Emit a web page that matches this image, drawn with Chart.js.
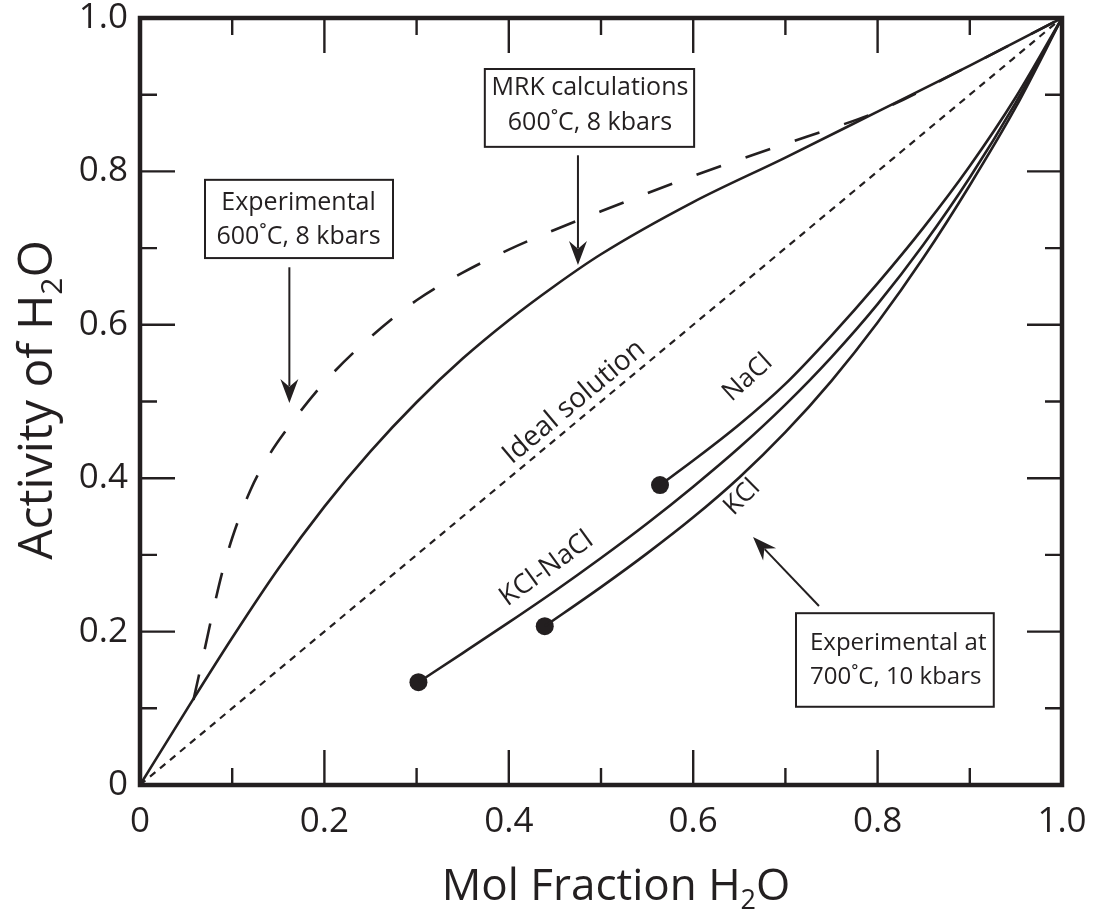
<!DOCTYPE html>
<html>
<head>
<meta charset="utf-8">
<script src="https://cdn.jsdelivr.net/npm/chart.js@4/dist/chart.umd.min.js"></script>
<style>
  html, body { margin: 0; padding: 0; background: #fff; }
  #wrap { width: 1099px; height: 909px; }
</style>
</head>
<body>
<div id="wrap"><canvas id="chart" width="1099" height="909"></canvas></div>
<script>
// Activity of H2O vs mol fraction H2O
const axisTicks = [0, 0.2, 0.4, 0.6, 0.8, 1.0];

const idealX = [0, 1];
const idealY = [0, 1];

// MRK calculations 600˚C, 8 kbars
const mrkX = [0, 0.05, 0.1, 0.15, 0.2, 0.25, 0.3, 0.35, 0.4, 0.45, 0.5, 0.6, 0.7, 0.8, 0.9, 1];
const mrkY = [0, 0.097, 0.192, 0.282, 0.363, 0.435, 0.499, 0.556, 0.606, 0.651, 0.692, 0.760, 0.818, 0.878, 0.938, 1];

// Experimental 600˚C, 8 kbars (dashed)
const exp600X = [0.058, 0.07, 0.08, 0.09, 0.1, 0.12, 0.14, 0.16, 0.2, 0.25, 0.3, 0.35, 0.4, 0.45, 0.5, 0.6, 0.7, 0.75, 0.8, 0.9, 1];
const exp600Y = [0.111, 0.176, 0.231, 0.281, 0.322, 0.385, 0.430, 0.465, 0.525, 0.584, 0.632, 0.668, 0.698, 0.724, 0.748, 0.794, 0.836, 0.856, 0.878, 0.938, 1];

// Experimental at 700˚C, 10 kbars
const naclX = [0.564, 0.6, 0.65, 0.7, 0.75, 0.8, 0.85, 0.9, 0.95, 1];
const naclY = [0.391, 0.423, 0.470, 0.523, 0.586, 0.654, 0.727, 0.807, 0.897, 1];

const kclNaclX = [0.302, 0.35, 0.4, 0.45, 0.5, 0.55, 0.6, 0.65, 0.7, 0.75, 0.8, 0.85, 0.9, 0.95, 1];
const kclNaclY = [0.134, 0.172, 0.212, 0.253, 0.296, 0.341, 0.389, 0.440, 0.496, 0.558, 0.627, 0.705, 0.792, 0.890, 1];

const kclX = [0.439, 0.5, 0.55, 0.6, 0.65, 0.7, 0.75, 0.8, 0.85, 0.9, 0.95, 1];
const kclY = [0.207, 0.258, 0.302, 0.349, 0.401, 0.460, 0.527, 0.603, 0.688, 0.782, 0.884, 1];

const FONT = "'Open Sans', sans-serif";
const INK = '#231f20';

const pts = (xs, ys) => xs.map((x, i) => ({ x: x, y: ys[i] }));

function curve(xs, ys, dash, width) {
    return {
        data: pts(xs, ys),
        showLine: true,
        borderColor: INK,
        borderWidth: width || 2.6,
        borderDash: dash || [],
        pointRadius: 0,
        cubicInterpolationMode: 'monotone',
        fill: false
    };
}

// annotation boxes, in data units
const boxes = [
    { lines: ['Experimental', '600˚C, 8 kbars'], x0: 0.0705, x1: 0.2744, yTop: 0.789, yBot: 0.687, tx: 0.172, ty: [0.759, 0.714], align: 'center', size: 25 },
    { lines: ['MRK calculations', '600˚C, 8 kbars'], x0: 0.374, x1: 0.601, yTop: 0.9335, yBot: 0.832, tx: 0.488, ty: [0.9087, 0.8631], align: 'center', size: 25 },
    { lines: ['Experimental at', '700˚C, 10 kbars'], x0: 0.7115, x1: 0.926, yTop: 0.224, yBot: 0.102, tx: 0.7267, ty: [0.185, 0.141], align: 'left', size: 24 }
];

const arrows = [
    { from: [0.162, 0.675], to: [0.162, 0.498] },
    { from: [0.475, 0.821], to: [0.475, 0.678] },
    { from: [0.7364, 0.2334], to: [0.6649, 0.3233] }
];

const curveLabels = [
    { text: 'Ideal solution', x: 0.4707, y: 0.4993, angle: -40, size: 28 },
    { text: 'NaCl', x: 0.659, y: 0.531, angle: -42, size: 26 },
    { text: 'KCl', x: 0.653, y: 0.375, angle: -45, size: 26 },
    { text: 'KCl-NaCl', x: 0.441, y: 0.282, angle: -36, size: 27 }
];

function drawArrow(ctx, x0, y0, x1, y1) {
    const a = Math.atan2(y1 - y0, x1 - x0);
    const len = 24, half = 9;
    ctx.beginPath();
    ctx.moveTo(x0, y0);
    ctx.lineTo(x1 - Math.cos(a) * len * 0.7, y1 - Math.sin(a) * len * 0.7);
    ctx.stroke();
    ctx.save();
    ctx.translate(x1, y1);
    ctx.rotate(a);
    ctx.beginPath();
    ctx.moveTo(0, 0);
    ctx.lineTo(-len, -half);
    ctx.lineTo(-len * 0.68, 0);
    ctx.lineTo(-len, half);
    ctx.closePath();
    ctx.fill();
    ctx.restore();
}

// text with a subscript "2" in H2O, centred on (0,0) of the current transform
function drawH2OTitle(ctx, prefix, size) {
    const subSize = Math.round(size * 0.62);
    ctx.font = size + 'px ' + FONT;
    const w1 = ctx.measureText(prefix + 'H').width;
    const w3 = ctx.measureText('O').width;
    ctx.font = subSize + 'px ' + FONT;
    const w2 = ctx.measureText('2').width;
    const total = w1 + w2 + w3;
    let x = -total / 2;
    ctx.textAlign = 'left';
    ctx.textBaseline = 'alphabetic';
    ctx.font = size + 'px ' + FONT;
    ctx.fillText(prefix + 'H', x, 0);
    x += w1;
    ctx.font = subSize + 'px ' + FONT;
    ctx.fillText('2', x, size * 0.2);
    x += w2;
    ctx.font = size + 'px ' + FONT;
    ctx.fillText('O', x, 0);
}

const decorPlugin = {
    id: 'decor',
    afterDraw(chart) {
        const ctx = chart.ctx;
        const a = chart.chartArea;
        const xs = chart.scales.x, ys = chart.scales.y;
        const px = v => xs.getPixelForValue(v);
        const py = v => ys.getPixelForValue(v);

        ctx.save();
        ctx.strokeStyle = INK;
        ctx.fillStyle = INK;

        // inward ticks on all four sides
        ctx.lineWidth = 2.4;
        for (let i = 1; i < 10; i++) {
            const v = i / 10;
            const len = i % 2 === 0 ? 35 : 17;
            ctx.beginPath();
            ctx.moveTo(px(v), a.bottom); ctx.lineTo(px(v), a.bottom - len);
            ctx.moveTo(px(v), a.top); ctx.lineTo(px(v), a.top + len);
            ctx.moveTo(a.left, py(v)); ctx.lineTo(a.left + len, py(v));
            ctx.moveTo(a.right, py(v)); ctx.lineTo(a.right - len, py(v));
            ctx.stroke();
        }

        // frame
        ctx.lineWidth = 4.5;
        ctx.strokeRect(a.left, a.top, a.right - a.left, a.bottom - a.top);

        // boxes
        ctx.lineWidth = 2;
        boxes.forEach(b => {
            const l = px(b.x0), r = px(b.x1), t = py(b.yTop), bt = py(b.yBot);
            ctx.fillStyle = '#fff';
            ctx.fillRect(l, t, r - l, bt - t);
            ctx.strokeRect(l, t, r - l, bt - t);
            ctx.fillStyle = INK;
            ctx.font = b.size + 'px ' + FONT;
            ctx.textAlign = b.align;
            ctx.textBaseline = 'middle';
            b.lines.forEach((s, i) => ctx.fillText(s, px(b.tx), py(b.ty[i])));
        });

        // arrows
        ctx.lineWidth = 2;
        arrows.forEach(ar => drawArrow(ctx, px(ar.from[0]), py(ar.from[1]), px(ar.to[0]), py(ar.to[1])));

        // rotated curve labels
        curveLabels.forEach(c => {
            ctx.save();
            ctx.translate(px(c.x), py(c.y));
            ctx.rotate(c.angle * Math.PI / 180);
            ctx.font = c.size + 'px ' + FONT;
            ctx.textAlign = 'center';
            ctx.textBaseline = 'middle';
            ctx.fillText(c.text, 0, 0);
            ctx.restore();
        });

        // axis titles
        ctx.save();
        ctx.translate(616, 900);
        drawH2OTitle(ctx, 'Mol Fraction ', 44);
        ctx.restore();

        ctx.save();
        ctx.translate(52, 400);
        ctx.rotate(-Math.PI / 2);
        drawH2OTitle(ctx, 'Activity of ', 48);
        ctx.restore();

        ctx.restore();
    }
};

const tickFmt = v => Math.abs(v) < 1e-9 ? '0' : Number(v).toFixed(1);

new Chart(document.getElementById('chart'), {
    type: 'scatter',
    data: {
        datasets: [
            curve(idealX, idealY, [7, 6], 2.2),
            curve(mrkX, mrkY),
            curve(exp600X, exp600Y, [26, 26]),
            curve(naclX, naclY),
            curve(kclNaclX, kclNaclY),
            curve(kclX, kclY),
            {
                data: [
                    { x: naclX[0], y: naclY[0] },
                    { x: kclNaclX[0], y: kclNaclY[0] },
                    { x: kclX[0], y: kclY[0] }
                ],
                showLine: false,
                pointRadius: 9,
                pointBackgroundColor: INK,
                pointBorderWidth: 0
            }
        ]
    },
    options: {
        responsive: false,
        animation: false,
        layout: { padding: { top: 18, right: 37, left: 0, bottom: 0 } },
        plugins: { legend: { display: false }, tooltip: { enabled: false } },
        scales: {
            x: {
                type: 'linear', min: 0, max: 1,
                grid: { display: false, drawTicks: false },
                border: { display: false },
                afterBuildTicks: s => { s.ticks = axisTicks.map(v => ({ value: v })); },
                ticks: { padding: 20, color: INK, maxRotation: 0, autoSkip: false, callback: tickFmt,
                         font: { family: FONT, size: 35, lineHeight: 1 } },
                afterFit: s => { s.height = 124; s.paddingLeft = 0; s.paddingRight = 0; }
            },
            y: {
                type: 'linear', min: 0, max: 1,
                grid: { display: false, drawTicks: false },
                border: { display: false },
                afterBuildTicks: s => { s.ticks = axisTicks.map(v => ({ value: v })); },
                ticks: { padding: 12, color: INK, autoSkip: false, callback: tickFmt,
                         font: { family: FONT, size: 35, lineHeight: 1 } },
                afterFit: s => { s.width = 140; s.paddingTop = 0; s.paddingBottom = 0; }
            }
        }
    },
    plugins: [decorPlugin]
});
</script>
</body>
</html>
